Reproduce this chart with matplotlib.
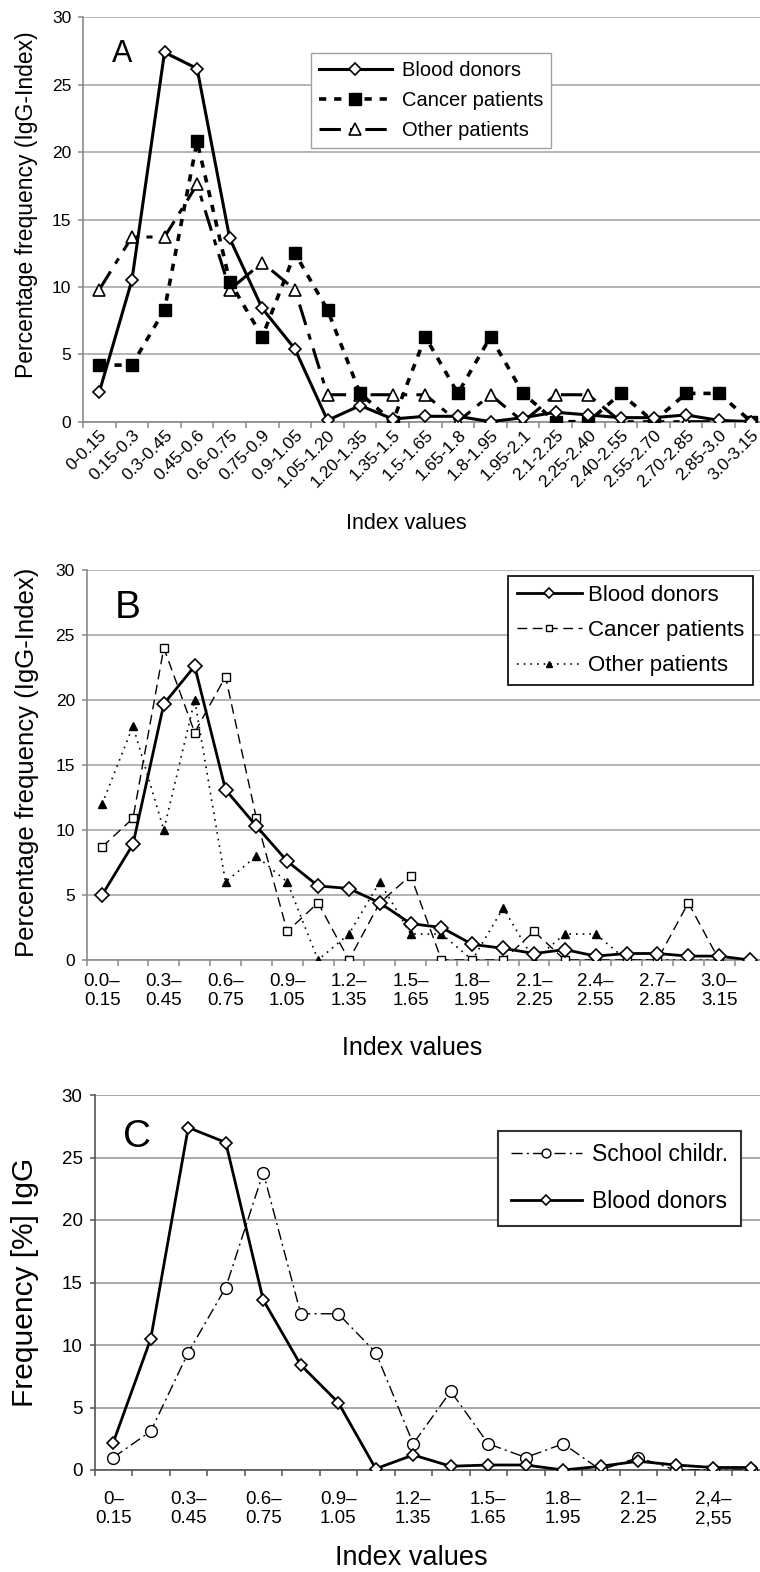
import numpy as np
import matplotlib
matplotlib.use("Agg")
import matplotlib.pyplot as plt
from matplotlib import font_manager

# ---------------- data ----------------
a_labels = ["0-0.15", "0.15-0.3", "0.3-0.45", "0.45-0.6", "0.6-0.75", "0.75-0.9",
            "0.9-1.05", "1.05-1.20", "1.20-1.35", "1.35-1.5", "1.5-1.65", "1.65-1.8",
            "1.8-1.95", "1.95-2.1", "2.1-2.25", "2.25-2.40", "2.40-2.55", "2.55-2.70",
            "2.70-2.85", "2.85-3.0", "3.0-3.15"]
a_blood = [2.2, 10.5, 27.4, 26.2, 13.6, 8.4, 5.4, 0.1, 1.2, 0.2, 0.4, 0.4, 0.0, 0.3,
           0.7, 0.5, 0.3, 0.3, 0.5, 0.1, 0.0]
a_cancer = [4.2, 4.2, 8.3, 20.8, 10.4, 6.3, 12.5, 8.3, 2.1, 0.0, 6.3, 2.1, 6.3, 2.1,
            0.0, 0.0, 2.1, 0.0, 2.1, 2.1, 0.0]
a_other = [9.8, 13.7, 13.7, 17.6, 9.8, 11.8, 9.8, 2.0, 2.0, 2.0, 2.0, 0.0, 2.0, 0.0,
           2.0, 2.0, 0.0, 0.0, 0.0, 0.0, 0.0]

b_labels = ["0.0\u2013\n0.15", "0.3\u2013\n0.45", "0.6\u2013\n0.75", "0.9\u2013\n1.05",
            "1.2\u2013\n1.35", "1.5\u2013\n1.65", "1.8\u2013\n1.95", "2.1\u2013\n2.25",
            "2.4\u2013\n2.55", "2.7\u2013\n2.85", "3.0\u2013\n3.15"]
b_blood = [5.0, 8.9, 19.7, 22.6, 13.1, 10.3, 7.6, 5.7, 5.5, 4.4, 2.8, 2.5, 1.2, 0.9,
           0.5, 0.8, 0.3, 0.5, 0.5, 0.3, 0.3, 0.0]
b_cancer = [8.7, 10.9, 24.0, 17.5, 21.8, 10.9, 2.2, 4.4, 0.0, 4.4, 6.5, 0.0, 0.0, 0.0,
            2.2, 0.0, 0.0, 0.0, 0.0, 4.4, 0.0]
b_other = [12.0, 18.0, 10.0, 20.0, 6.0, 8.0, 6.0, 0.0, 2.0, 6.0, 2.0, 2.0, 0.0, 4.0,
           0.0, 2.0, 2.0, 0.0, 0.0, 0.0, 0.0]

c_labels = ["0\u2013\n0.15", "0.3\u2013\n0.45", "0.6\u2013\n0.75", "0.9\u2013\n1.05",
            "1.2\u2013\n1.35", "1.5\u2013\n1.65", "1.8\u2013\n1.95", "2.1\u2013\n2.25",
            "2,4\u2013\n2,55"]
c_school = [1.0, 3.1, 9.4, 14.6, 23.8, 12.5, 12.5, 9.4, 2.1, 6.3, 2.1, 1.0, 2.1, 0.0,
            1.0, 0.0, 0.0, 0.0]
c_blood = [2.2, 10.5, 27.4, 26.2, 13.6, 8.4, 5.4, 0.1, 1.2, 0.3, 0.4, 0.4, 0.0, 0.3,
           0.7, 0.4, 0.2, 0.2]

# ---------------- fonts ----------------
avail = {f.name for f in font_manager.fontManager.ttflist}
REG = "Liberation Sans" if "Liberation Sans" in avail else "DejaVu Sans"
NARROW = "Liberation Sans Narrow" if "Liberation Sans Narrow" in avail else REG
plt.rcParams["font.family"] = [REG, "DejaVu Sans"]

W, H = 760, 1572
fig = plt.figure(figsize=(W / 100, H / 100), dpi=100)


def add_axes(left, right, top, bottom):
    return fig.add_axes([left / W, 1 - bottom / H, (right - left) / W, (bottom - top) / H])


def style(ax, n, gridc="#a8a8a8", spinec="#8a8a8a", ytick_fs=12, yfont=REG):
    ax.set_xlim(-0.5, n - 0.5)
    ax.set_ylim(0, 30)
    ax.set_yticks(np.arange(0, 31, 5))
    ax.yaxis.grid(True, color=gridc, lw=1.2)
    ax.set_axisbelow(True)
    for s in ["top", "right"]:
        ax.spines[s].set_visible(False)
    for s in ["left", "bottom"]:
        ax.spines[s].set_color(spinec)
        ax.spines[s].set_linewidth(1.2)
    ax.set_xticks(np.arange(-0.5, n, 1.0))
    ax.tick_params(axis="x", which="major", length=4, width=1.1, color=spinec,
                   labelbottom=False)
    ax.tick_params(axis="y", length=3.5, width=1.1, color=spinec, pad=5,
                   labelsize=ytick_fs)
    for t in ax.get_yticklabels():
        t.set_fontfamily(yfont)


# ---------------- panel A ----------------
axA = add_axes(83, 767.6, 17.3, 421.7)
nA = len(a_labels)
style(axA, nA, ytick_fs=12.5)
xa = np.arange(nA)
axA.plot(xa, a_blood, color="black", lw=2.2, marker="D", ms=6, mfc="white",
         mec="black", mew=1.2, label="Blood donors", zorder=5)
axA.plot(xa, a_cancer, color="black", lw=2.6, ls=(0, (2, 2.2)), marker="s", ms=8,
         mfc="black", mec="black", label="Cancer patients", zorder=4)
axA.plot(xa, a_other, color="black", lw=2.2, ls=(0, (7, 3, 2, 3)), marker="^", ms=9,
         mfc="white", mec="black", mew=1.2, label="Other patients", zorder=3)
axA.set_xticks(xa, a_labels, minor=True)
axA.tick_params(axis="x", which="minor", length=0, pad=4, labelsize=12.5)
for t in axA.get_xticklabels(minor=True):
    t.set_rotation(45)
    t.set_ha("right")
    t.set_rotation_mode("anchor")
axA.set_ylabel("Percentage frequency (IgG-Index)", fontsize=16.5, va="center")
axA.yaxis.set_label_coords(-0.0818, 0.536)
axA.set_xlabel("Index values", fontsize=15.5, va="center")
axA.xaxis.set_label_coords(0.4725, -0.2505)
axA.text(0.057, 0.909, "A", transform=axA.transAxes, fontsize=22, ha="center", va="center")
legA = axA.legend(loc="upper left", bbox_to_anchor=(311 / W, 1 - 53 / H),
                  bbox_transform=fig.transFigure, fontsize=14.5, frameon=True,
                  fancybox=False, edgecolor="#a0a0a0", framealpha=1, borderpad=0.4,
                  labelspacing=0.55, handlelength=3.6, handletextpad=0.5,
                  borderaxespad=0)
legA.get_frame().set_linewidth(1)

# ---------------- panel B ----------------
axB = add_axes(86.7, 765.4, 570, 960)
nB = len(b_blood)
style(axB, nB, ytick_fs=12.5)
xb = np.arange(nB)
axB.plot(xb[:len(b_blood)], b_blood, color="black", lw=2, marker="D", ms=7,
         mfc="white", mec="black", mew=1.2, label="Blood donors", zorder=5)
axB.plot(xb[:len(b_cancer)], b_cancer, color="black", lw=1, ls=(0, (7, 4)), marker="s",
         ms=5.5, mfc="white", mec="black", mew=1, label="Cancer patients", zorder=4)
axB.plot(xb[:len(b_other)], b_other, color="black", lw=1.2, ls=(0, (1, 3)), marker="^",
         ms=6, mfc="black", mec="black", label="Other patients", zorder=3)
axB.set_xticks(xb[::2][:len(b_labels)], b_labels, minor=True)
axB.tick_params(axis="x", which="minor", length=0, pad=9, labelsize=13.5)
axB.set_ylabel("Percentage frequency (IgG-Index)", fontsize=18.5, va="center")
axB.yaxis.set_label_coords(-0.088, 0.506)
axB.set_xlabel("Index values", fontsize=18, va="center")
axB.xaxis.set_label_coords(0.479, -0.2256)
axB.text(0.0608, 0.9026, "B", transform=axB.transAxes, fontsize=28, ha="center", va="center")
legB = axB.legend(loc="upper left", bbox_to_anchor=(507.7 / W, 1 - 575.7 / H),
                  bbox_transform=fig.transFigure, fontsize=16, frameon=True,
                  fancybox=False, edgecolor="black", framealpha=1, borderpad=0.4,
                  labelspacing=0.65, handlelength=2.95, handletextpad=0.25,
                  markerscale=0.8, borderaxespad=0)
legB.get_frame().set_linewidth(1.2)

# ---------------- panel C ----------------
axC = add_axes(94.5, 769.5, 1095, 1470)
nC = len(c_blood)
style(axC, nC, gridc="#999999", spinec="#555555", ytick_fs=13.5, yfont=NARROW)
xc = np.arange(nC)
axC.plot(xc, c_school, color="black", lw=1, ls=(0, (8, 3, 1.5, 3)), marker="o", ms=8.5,
         mfc="white", mec="black", mew=1, label="School childr.", zorder=4)
axC.plot(xc, c_blood, color="black", lw=2, marker="D", ms=6.5, mfc="white",
         mec="black", mew=1.2, label="Blood donors", zorder=5)
axC.set_xticks(xc[::2][:len(c_labels)], c_labels, minor=True)
axC.tick_params(axis="x", which="minor", length=0, pad=15, labelsize=13.5)
for t in axC.get_xticklabels(minor=True):
    t.set_fontfamily(NARROW)
axC.set_ylabel("Frequency [%] IgG", fontsize=21.5, va="center")
axC.yaxis.set_label_coords(-0.103, 0.5)
axC.set_xlabel("Index values", fontsize=19.5, va="center", fontfamily=NARROW)
axC.xaxis.set_label_coords(0.470, -0.2347)
axC.text(0.063, 0.888, "C", transform=axC.transAxes, fontsize=28, ha="center", va="center")
legC = axC.legend(loc="upper left", bbox_to_anchor=(498 / W, 1 - 1130.7 / H),
                  bbox_transform=fig.transFigure, fontsize=16.5, frameon=True,
                  fancybox=False, edgecolor="#333333", framealpha=1, borderpad=0.55,
                  labelspacing=1.05, handlelength=3.1, handletextpad=0.45,
                  markerscale=0.75, borderaxespad=0)
legC.get_frame().set_linewidth(1.5)

fig.savefig("out.png", dpi=100)
